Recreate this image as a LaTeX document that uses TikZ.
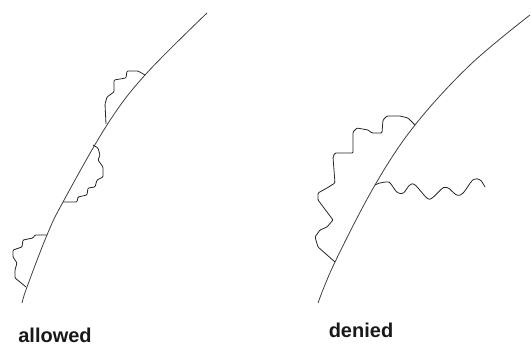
\documentclass[tikz,border=0pt]{standalone}
\usepackage{fontspec}
\setmainfont{Liberation Sans}
\begin{document}
\begin{tikzpicture}[x=1pt,y=-1pt,
  curve/.style={draw=black!75,line width=0.8pt},
  bump/.style={draw=black!85,line width=0.8pt,rounded corners=1pt,line join=round},
  label/.style={font=\fontsize{20}{22}\selectfont\bfseries,text=black!90,inner sep=0pt}]
\useasboundingbox (0,0) rectangle (531,350);
% left curve
\draw[curve] plot[smooth,tension=0.6] coordinates {(207,13) (145,75) (107,125) (63,202) (47,235) (27,287) (22,303)};
% left bumps
\draw[bump] (145,75) -- (138,71) -- (127,71) -- (126,78) -- (114,80) -- (114,92) -- (107,97) -- (105,104) -- (106,124);
\draw[bump] (93,145) -- (98,148) -- (100,155) -- (98,160) -- (103,167) -- (103,177) -- (97,180) -- (95,187) -- (88,188) -- (87,195) -- (78,197) -- (77,202) -- (63,202);
\draw[bump] (47,235) -- (35,235) -- (33,238) -- (23,240) -- (22,247) -- (13,250) -- (13,257) -- (17,263) -- (15,270) -- (15,278) -- (20,282) -- (26,287);
% right curve
\draw[curve] plot[smooth,tension=0.6] coordinates {(530,15) (470,65) (415,125) (375,185) (335,262) (318,303)};
% right bumps
\draw[bump] (415,125) -- (408,118) -- (400,116) -- (387,116) -- (383,120) -- (382,133) -- (372,133) -- (368,130) -- (357,128) -- (353,132) -- (353,153) -- (335,153) -- (333,157) -- (335,183) -- (327,188) -- (318,193) -- (318,200) -- (333,220) -- (327,227) -- (320,230) -- (315,237) -- (318,247) -- (335,262);
\draw[bump] plot[smooth,tension=0.5] coordinates {(375,185) (380,183) (387,182) (390,183) (397,192) (403,193) (410,185) (415,185) (427,198) (432,198) (443,188) (448,188) (457,195) (463,193) (473,180) (480,180) (485,187)};
% labels
\node[label] (allowed) at (55,335) {allowed};
\node[label] (denied) at (361,330) {denied};
\end{tikzpicture}
\end{document}
